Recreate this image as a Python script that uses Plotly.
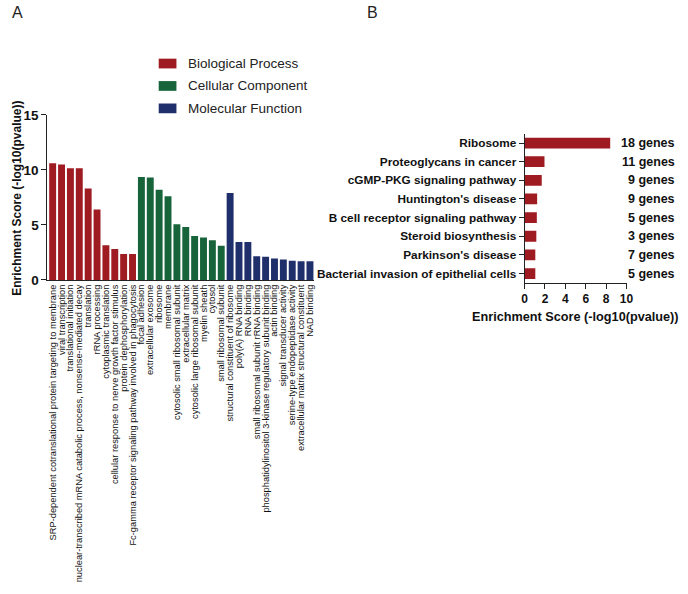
import plotly.graph_objects as go

# ---------------- Data: panel A (GO enrichment) ----------------
bp_terms = [
    "SRP-dependent cotranslational protein targeting to membrane",
    "viral transcription",
    "translational initiation",
    "nuclear-transcribed mRNA catabolic process, nonsense-mediated decay",
    "translation",
    "rRNA processing",
    "cytoplasmic translation",
    "cellular response to nerve growth factor stimulus",
    "protein dephosphorylation",
    "Fc-gamma receptor signaling pathway involved in phagocytosis",
]
bp_scores = [10.6, 10.5, 10.15, 10.15, 8.3, 6.4, 3.15, 2.8, 2.35, 2.35]

cc_terms = [
    "focal adhesion",
    "extracellular exosome",
    "ribosome",
    "membrane",
    "cytosolic small ribosomal subunit",
    "extracellular matrix",
    "cytosolic large ribosomal subunit",
    "myelin sheath",
    "cytosol",
    "small ribosomal subunit",
]
cc_scores = [9.35, 9.3, 8.2, 7.6, 5.05, 4.8, 4.0, 3.85, 3.6, 3.1]

mf_terms = [
    "structural constituent of ribosome",
    "poly(A) RNA binding",
    "RNA binding",
    "small ribosomal subunit rRNA binding",
    "phosphatidylinositol 3-kinase regulatory subunit binding",
    "actin binding",
    "signal transducer activity",
    "serine-type endopeptidase activity",
    "extracellular matrix structural constituent",
    "NAD binding",
]
mf_scores = [7.9, 3.45, 3.45, 2.15, 2.1, 1.95, 1.85, 1.75, 1.7, 1.7]

go_groups = ["Biological Process", "Cellular Component", "Molecular Function"]
go_colors = ["#9e1b22", "#17643a", "#1f2f6b"]
a_ticks = [0, 5, 10, 15]

# ---------------- Data: panel B (KEGG pathways) ----------------
kegg_terms = [
    "Ribosome",
    "Proteoglycans in cancer",
    "cGMP-PKG signaling pathway",
    "Huntington's disease",
    "B cell receptor signaling pathway",
    "Steroid biosynthesis",
    "Parkinson's disease",
    "Bacterial invasion of epithelial cells",
]
kegg_scores = [8.4, 1.95, 1.68, 1.23, 1.2, 1.15, 1.05, 1.05]
kegg_genes = ["18 genes", "11 genes", "9 genes", "9 genes", "5 genes", "3 genes", "7 genes", "5 genes"]
b_ticks = [0, 2, 4, 6, 8, 10]

axis_title = "Enrichment Score (-log10(pvalue))"
FONT = "Liberation Sans, Arial, sans-serif"

fig = go.Figure()

for terms, scores, name, color in zip([bp_terms, cc_terms, mf_terms],
                                      [bp_scores, cc_scores, mf_scores],
                                      go_groups, go_colors):
    fig.add_trace(go.Bar(x=terms, y=scores, name=name, marker_color=color,
                         marker_line_width=0, xaxis="x", yaxis="y",
                         showlegend=False))

fig.add_trace(go.Bar(x=kegg_scores, y=kegg_terms, orientation="h",
                     marker_color=go_colors[0], marker_line_width=0,
                     xaxis="x2", yaxis="y2", showlegend=False))

W, H = 688, 594
def px(x):
    return x / W
def py(y):
    return 1 - y / H

all_terms = bp_terms + cc_terms + mf_terms

fig.update_layout(
    width=W, height=H,
    margin=dict(l=0, r=0, t=0, b=0),
    paper_bgcolor="white", plot_bgcolor="white",
    font=dict(family=FONT, color="#111"),
    bargap=0.22,
    xaxis=dict(domain=[px(45), px(316)], type="category",
               categoryorder="array", categoryarray=all_terms,
               tickmode="array", tickvals=all_terms, ticktext=all_terms,
               range=[-0.6, 29.5],
               showline=True, linecolor="#222", linewidth=1,
               ticks="", tickangle=-90,
               tickfont=dict(size=9.3, family=FONT, color="#111"),
               showgrid=False, zeroline=False, anchor="y"),
    yaxis=dict(domain=[py(280), py(110.7)], range=[0, 15],
               tickvals=a_ticks, ticks="outside", ticklen=5,
               tickcolor="#222", tickwidth=1,
               showline=True, linecolor="#222", linewidth=1,
               tickfont=dict(size=13.5, family=FONT, color="#111", weight="bold"),
               showgrid=False, zeroline=False, anchor="x"),
    xaxis2=dict(domain=[px(529.3), px(632.7)], range=[0, 10],
                tickvals=b_ticks, ticks="outside", ticklen=5,
                tickcolor="#222", tickwidth=1,
                showline=True, linecolor="#222", linewidth=1,
                tickfont=dict(size=12, family=FONT, color="#111", weight="bold"),
                showgrid=False, zeroline=False, anchor="y2"),
    yaxis2=dict(domain=[py(283), py(130)], type="category",
                categoryorder="array", categoryarray=kegg_terms,
                autorange="reversed",
                ticks="outside", ticklen=5, tickcolor="#222", tickwidth=1,
                showline=True, linecolor="#222", linewidth=1,
                tickfont=dict(size=11.8, family=FONT, color="#111", weight="bold"),
                showgrid=False, zeroline=False, anchor="x2"),
)
fig.update_traces(selector=dict(orientation="h"), width=0.58)

annotations = [
    dict(text="A", x=px(7), y=py(6), xref="paper", yref="paper",
         xanchor="left", yanchor="middle", showarrow=False,
         font=dict(size=16, family=FONT, color="#222")),
    dict(text="B", x=px(367), y=py(6), xref="paper", yref="paper",
         xanchor="left", yanchor="middle", showarrow=False,
         font=dict(size=16, family=FONT, color="#222")),
    dict(text=axis_title, x=px(14), y=py(196), xref="paper", yref="paper",
         textangle=-90, xanchor="center", yanchor="middle", showarrow=False,
         font=dict(size=12, family=FONT, color="#111", weight="bold")),
    dict(text=axis_title, x=px(581), y=py(318), xref="paper", yref="paper",
         xanchor="center", yanchor="middle", showarrow=False,
         font=dict(size=12.7, family=FONT, color="#111", weight="bold")),
]
for term, g in zip(kegg_terms, kegg_genes):
    annotations.append(dict(text=g, x=px(684), y=term, xref="paper", yref="y2",
                            xanchor="right", yanchor="middle", showarrow=False,
                            font=dict(size=12.5, family=FONT, color="#111", weight="bold")))

shapes = []
legend_y = [58, 81, 104]
for name, color, ly in zip(go_groups, go_colors, legend_y):
    shapes.append(dict(type="rect", xref="paper", yref="paper",
                       x0=px(158), x1=px(176), y0=py(ly - 5), y1=py(ly + 5),
                       fillcolor=color, line=dict(width=0)))
    annotations.append(dict(text=name, x=px(186), y=py(ly), xref="paper", yref="paper",
                            xanchor="left", yanchor="middle", showarrow=False,
                            font=dict(size=13.5, family=FONT, color="#222")))

fig.update_layout(annotations=annotations, shapes=shapes)
fig.write_html("out.html", config={"displayModeBar": False},
               post_script="document.body.style.margin='0';document.body.style.overflow='hidden';")
